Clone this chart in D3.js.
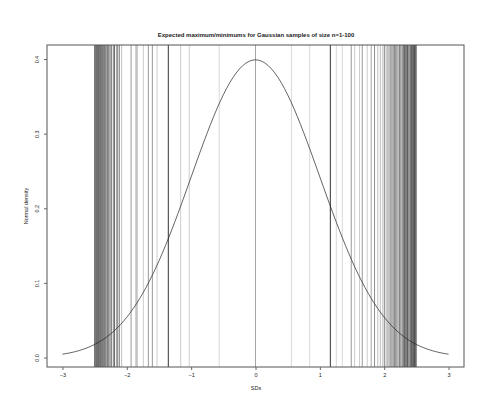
<!DOCTYPE html>
<html>
<head>
<meta charset="utf-8">
<script src="https://cdn.jsdelivr.net/npm/d3@7"></script>
<style>
  html, body { margin: 0; padding: 0; background: #fff; }
  text { font-family: "Liberation Sans", Arial, Helvetica, sans-serif; fill: #222; }
</style>
</head>
<body>
<svg id="chart" width="500" height="420"></svg>
<script>
// ---- data ----
const title = "Expected maximum/minimums for Gaussian samples of size n=1-100";
const xLabel = "SDs";
const yLabel = "Normal density";
const xTicks = [-3, -2, -1, 0, 1, 2, 3];
const yTicks = [0.0, 0.1, 0.2, 0.3, 0.4];
const yTickLabels = ["0.0", "0.1", "0.2", "0.3", "0.4"];

// expected minimums (SD units), with their shade weight
const minPositions = [-0.564, -1.03, -1.163, -1.355, -1.53, -1.603, -1.665, -1.743, -1.835, -1.856, -1.933,
  -2.08, -2.115, -2.14, -2.155, -2.19, -2.21, -2.24, -2.26, -2.28, -2.30, -2.321,
  -2.336, -2.35, -2.365, -2.38, -2.395, -2.41, -2.425, -2.44, -2.455, -2.47, -2.485, -2.50];
const minWeights = [0.15, 0.2, 0.2, 0.8, 0.2, 0.4, 0.4, 0.2, 0.2, 0.4, 0.4,
  0.25, 0.45, 0.5, 0.5, 0.6, 0.5, 0.55, 0.5, 0.6, 0.5, 0.6,
  0.55, 0.6, 0.55, 0.6, 0.55, 0.6, 0.55, 0.6, 0.55, 0.6, 0.55, 0.6];

// expected maximums
const maxPositions = [0.558, 0.842, 1.163, 1.256, 1.349, 1.488, 1.54, 1.617, 1.659, 1.736, 1.798, 1.85,
  1.90, 1.94, 1.98, 2.005, 2.03, 2.056, 2.075, 2.093, 2.11, 2.124, 2.142, 2.16, 2.178, 2.195, 2.215, 2.237,
  2.258, 2.279, 2.298, 2.315, 2.328, 2.341, 2.354, 2.366, 2.385, 2.403, 2.415, 2.425, 2.443, 2.457, 2.47,
  2.483, 2.496];
const maxWeights = [0.15, 0.15, 0.8, 0.15, 0.15, 0.4, 0.2, 0.2, 0.4, 0.2, 0.35, 0.45,
  0.25, 0.25, 0.3, 0.4, 0.3, 0.35, 0.3, 0.45, 0.35, 0.4, 0.4, 0.45, 0.45, 0.45, 0.45, 0.5,
  0.5, 0.55, 0.55, 0.6, 0.55, 0.6, 0.6, 0.75, 0.6, 0.6, 0.65, 0.6, 0.7, 0.65, 0.7,
  0.65, 0.7];

// n = 1 (centre line)
const centrePositions = [0];
const centreWeights = [0.35];

// density curve sample points (x in SDs) and normal density values
const curveX = d3.range(-3, 3.0001, 0.05);
const curveY = curveX.map(v => Math.exp(-v * v / 2) / Math.sqrt(2 * Math.PI));

// ---- drawing ----
const svg = d3.select("#chart");
const padL = 47, padR = 464, padT = 45, padB = 367;

const x = d3.scaleLinear().domain([-3.24, 3.24]).range([padL, padR]);
const y = d3.scaleLinear().domain([-0.0127, 0.4188]).range([padB, padT]);
const shade = d3.scaleLinear().domain([0, 1]).range(["#ffffff", "#000000"]);

const vlines = [];
minPositions.forEach((p, i) => vlines.push({ p, w: minWeights[i] }));
maxPositions.forEach((p, i) => vlines.push({ p, w: maxWeights[i] }));
centrePositions.forEach((p, i) => vlines.push({ p, w: centreWeights[i] }));
vlines.sort((a, b) => a.w - b.w);

svg.append("g").selectAll("line").data(vlines).join("line")
  .attr("x1", d => x(d.p)).attr("x2", d => x(d.p))
  .attr("y1", padT).attr("y2", padB)
  .attr("stroke", d => shade(d.w))
  .attr("stroke-width", 1);

// density curve
const curve = d3.line().x((d, i) => x(curveX[i])).y(d => y(d));
svg.append("path").datum(curveY)
  .attr("d", curve)
  .attr("fill", "none")
  .attr("stroke", "#222")
  .attr("stroke-width", 0.7);

// box
svg.append("rect")
  .attr("x", padL).attr("y", padT)
  .attr("width", padR - padL).attr("height", padB - padT)
  .attr("fill", "none").attr("stroke", "#555").attr("stroke-width", 1);

// x axis
const xAxis = d3.axisBottom(x).tickValues(xTicks).tickSize(3).tickPadding(3)
  .tickFormat(d => d3.format("d")(d));
const gx = svg.append("g").attr("transform", `translate(0,${padB})`).call(xAxis);
gx.select(".domain").remove();
gx.selectAll(".tick line").attr("stroke", "#666");
gx.selectAll("text").style("font-size", "5.5px").attr("fill", "#333");

// y axis
const yAxis = d3.axisLeft(y).tickValues(yTicks).tickSize(3)
  .tickFormat((d, i) => yTickLabels[i]);
const gy = svg.append("g").attr("transform", `translate(${padL},0)`).call(yAxis);
gy.select(".domain").remove();
gy.selectAll(".tick line").attr("stroke", "#666");
gy.selectAll("text")
  .style("font-size", "5.5px").attr("fill", "#333")
  .attr("x", null).attr("dy", null)
  .attr("text-anchor", "middle")
  .attr("transform", "translate(-8,0) rotate(-90)");

// labels
svg.append("text").attr("x", 256).attr("y", 37)
  .attr("text-anchor", "middle")
  .style("font-size", "6px").style("font-weight", "bold")
  .text(title);
svg.append("text").attr("x", 256).attr("y", 390)
  .attr("text-anchor", "middle").style("font-size", "5.5px")
  .text(xLabel);
svg.append("text")
  .attr("transform", `translate(28,${(padT + padB) / 2}) rotate(-90)`)
  .attr("text-anchor", "middle").style("font-size", "5.5px")
  .text(yLabel);
</script>
</body>
</html>
